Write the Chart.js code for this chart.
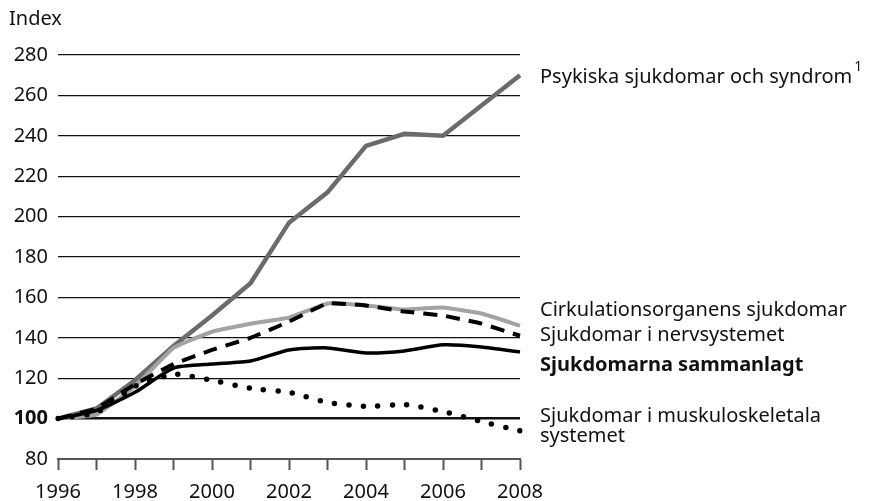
<!DOCTYPE html>
<html>
<head>
<meta charset="utf-8">
<script src="https://cdn.jsdelivr.net/npm/chart.js@4"></script>
<style>
  html, body { margin: 0; padding: 0; background: #fff; }
  #wrap { width: 873px; height: 501px; }
</style>
</head>
<body>
<div id="wrap"><canvas id="mychart" width="873" height="501"></canvas></div>
<script>
// data
var years      = ['1996','1997','1998','1999','2000','2001','2002','2003','2004','2005','2006','2007','2008']
var psykiska   = [100, 105, 119, 136, 151, 167, 197, 212, 235, 241, 240, 255, 270]
var cirkulation= [100, 102, 116, 135, 143, 147, 150, 157, 156, 154, 155, 152, 146]
var nerv       = [100, 105, 117, 127, 134, 140, 148, 157, 156, 153, 151, 147, 141]
var sammanlagt = [100, 104, 113, 125, 127, 128.5, 134, 135, 132.5, 133.5, 136.5, 135.5, 133]
var muskulo    = [100, 103, 116, 122, 119, 115, 113, 108, 106, 107, 103.5, 98.5, 94]
var yTicks     = [80, 100, 120, 140, 160, 180, 200, 220, 240, 260, 280]

var FONT = "'Noto Sans', sans-serif"
var FS = 20

// end labels on the right, y given in index units
var endLabels = [
    {text: 'Psykiska sjukdomar och syndrom', sup: '1', at: 269, bold: false},
    {text: 'Cirkulationsorganens sjukdomar', at: 153.5, bold: false},
    {text: 'Sjukdomar i nervsystemet', at: 141.3, bold: false},
    {text: 'Sjukdomarna sammanlagt', at: 126.5, bold: true},
    {text: 'Sjukdomar i muskuloskeletala', at: 101, bold: false},
    {text: 'systemet', at: 91, bold: false}
]

var textPlugin = {
    id: 'texts',
    afterDraw: function(chart){
        var c = chart.ctx
        var y = chart.scales.y
        var x0 = chart.chartArea.right + 20
        c.save()
        c.fillStyle = '#111'
        c.textBaseline = 'middle'
        c.textAlign = 'left'
        c.font = FS + 'px ' + FONT
        c.fillText('Index', 9, 19)
        endLabels.forEach(function(l){
            c.font = (l.bold ? 'bold ' : '') + FS + 'px ' + FONT
            var py = y.getPixelForValue(l.at)
            c.fillText(l.text, x0, py)
            if (l.sup) {
                var w = c.measureText(l.text).width
                c.font = '14px ' + FONT
                c.fillText(l.sup, x0 + w + 2, py - 10)
            }
        })
        c.restore()
    }
}

var ctx = document.getElementById('mychart').getContext('2d')

var chart = new Chart(ctx, {
    type: 'line',
    data: {
        labels: years,
        datasets: [
            {
                label: 'Sjukdomar i muskuloskeletala systemet',
                data: muskulo,
                borderColor: '#000',
                borderWidth: 5.5,
                borderDash: [0, 14.5],
                borderCapStyle: 'round',
                tension: 0.15,
                order: 1
            },
            {
                label: 'Sjukdomar i nervsystemet',
                data: nerv,
                borderColor: '#000',
                borderWidth: 4,
                borderDash: [14, 9],
                tension: 0.1,
                order: 2
            },
            {
                label: 'Sjukdomarna sammanlagt',
                data: sammanlagt,
                borderColor: '#000',
                borderWidth: 3.5,
                tension: 0.2,
                order: 3
            },
            {
                label: 'Cirkulationsorganens sjukdomar',
                data: cirkulation,
                borderColor: '#a3a3a3',
                borderWidth: 4,
                tension: 0.1,
                order: 4
            },
            {
                label: 'Psykiska sjukdomar och syndrom',
                data: psykiska,
                borderColor: '#6b6b6b',
                borderWidth: 4.5,
                tension: 0,
                order: 5
            }
        ]
    },
    options: {
        responsive: false,
        animation: false,
        events: [],
        elements: { point: { radius: 0 } },
        layout: { padding: { top: 55, right: 353, bottom: 0, left: 0 } },
        plugins: { legend: { display: false }, tooltip: { enabled: false } },
        scales: {
            x: {
                offset: false,
                grid: { drawOnChartArea: false, drawTicks: true, tickLength: 11, tickColor: '#555', tickWidth: 2 },
                border: { display: true, color: '#555', width: 2 },
                ticks: {
                    autoSkip: false, maxRotation: 0, padding: 10,
                    color: '#111', font: { family: FONT, size: FS },
                    callback: function(v, i){ return i % 2 === 0 ? this.getLabelForValue(v) : '' }
                },
                afterFit: function(s){ s.height = 42 }
            },
            y: {
                min: 80, max: 280,
                afterBuildTicks: function(s){ s.ticks = yTicks.map(function(v){ return {value: v} }) },
                grid: {
                    drawTicks: false,
                    color: function(c){ return c.tick && c.tick.value === 80 ? 'rgba(0,0,0,0)' : '#111' },
                    lineWidth: function(c){ return c.tick && c.tick.value === 100 ? 2.5 : 1.3 }
                },
                border: { display: false },
                ticks: {
                    padding: 10, color: '#111',
                    font: function(c){ return { family: FONT, size: FS, weight: c.tick && c.tick.value === 100 ? 'bold' : 'normal' } }
                },
                afterFit: function(s){ s.width = 58 }
            }
        }
    },
    plugins: [textPlugin]
})
</script>
</body>
</html>
